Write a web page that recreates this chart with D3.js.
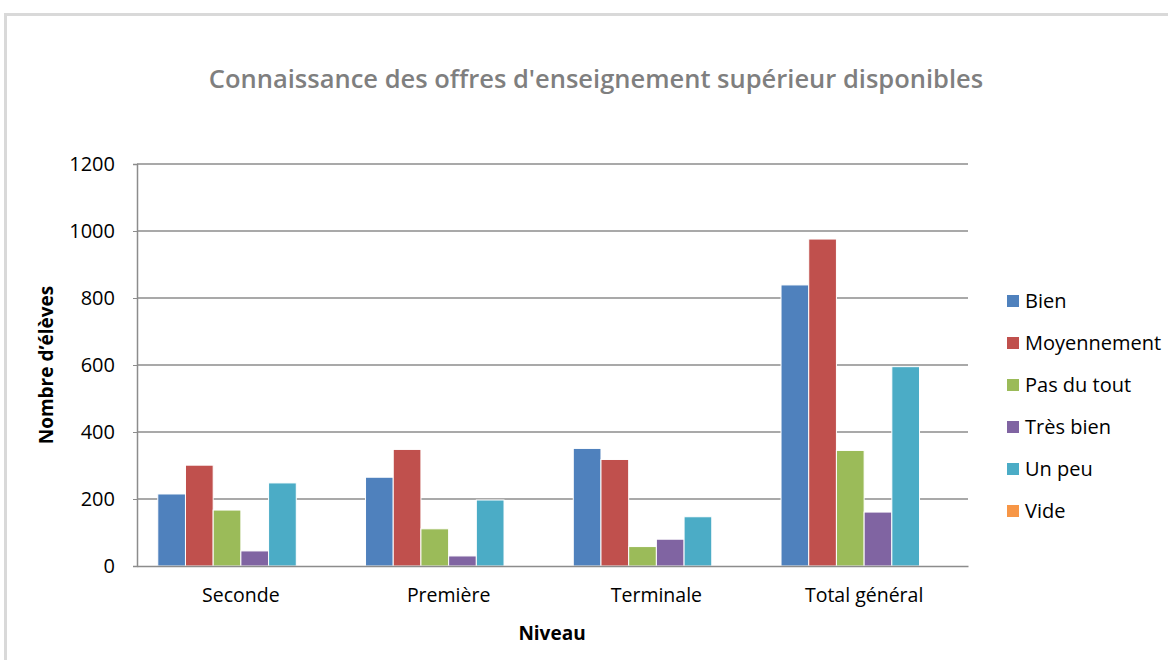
<!DOCTYPE html>
<html>
<head>
<meta charset="utf-8">
<script src="https://cdn.jsdelivr.net/npm/d3@7"></script>
<style>
  body { margin: 0; background: #fff; }
  text { font-family: "Open Sans", "Noto Sans", sans-serif; }
</style>
</head>
<body>
<div id="chart"></div>
<script>
// Data
let niveaux = ["Seconde", "Première", "Terminale", "Total général"];
let series = ["Bien", "Moyennement", "Pas du tout", "Très bien", "Un peu", "Vide"];
let bien = [215, 265, 351, 839];
let moyennement = [301, 348, 318, 976];
let pasDuTout = [167, 111, 58, 345];
let tresBien = [45, 30, 80, 161];
let unPeu = [248, 197, 147, 595];
let vide = [null, null, null, null];
let yTicks = [0, 200, 400, 600, 800, 1000, 1200];

let values = [bien, moyennement, pasDuTout, tresBien, unPeu, vide];
let colors = ["#4F81BD", "#C0504D", "#9BBB59", "#8064A2", "#4BACC6", "#F79646"];

// SVG area
let svgWidth = 1168;
let svgHeight = 660;

let margin = { top: 164, right: 200, bottom: 94, left: 137 };
let width = svgWidth - margin.left - margin.right;
let height = svgHeight - margin.top - margin.bottom;

let svg = d3.select("#chart")
  .append("svg")
  .attr("width", svgWidth)
  .attr("height", svgHeight);

// outer frame (cropped chart border)
svg.append("rect")
  .attr("x", 4).attr("y", 13)
  .attr("width", svgWidth).attr("height", 3)
  .attr("fill", "#d9d9d9");
svg.append("rect")
  .attr("x", 4).attr("y", 13)
  .attr("width", 3).attr("height", svgHeight)
  .attr("fill", "#d9d9d9");

// Title
svg.append("text")
  .attr("x", 596)
  .attr("y", 88)
  .attr("text-anchor", "middle")
  .attr("font-size", "25.5px")
  .attr("font-weight", 600)
  .attr("fill", "#7f7f7f")
  .text("Connaissance des offres d'enseignement supérieur disponibles");

let chartGroup = svg.append("g")
  .attr("transform", `translate(${margin.left}, ${margin.top})`);

// Scales
let x0 = d3.scaleBand().domain(niveaux).range([0, width]);
let gap = x0.bandwidth() * 0.1;
let x1 = d3.scaleBand().domain(series).range([gap, x0.bandwidth() - gap]);
let y = d3.scaleLinear().domain([0, 1200]).range([height, 0]);

// Gridlines
chartGroup.append("g")
  .selectAll("line")
  .data(yTicks.slice(1))
  .enter()
  .append("line")
  .attr("x1", 0)
  .attr("x2", width)
  .attr("y1", (d) => y(d))
  .attr("y2", (d) => y(d))
  .attr("stroke", "#8c8c8c")
  .attr("stroke-width", 1.5);

// Y axis
let yAxis = chartGroup.append("g")
  .call(d3.axisLeft(y).tickValues(yTicks).tickSize(4).tickPadding(18).tickFormat(d3.format("d")));
yAxis.select(".domain").attr("stroke", "#8c8c8c").attr("stroke-width", 1.5);
yAxis.selectAll(".tick line").attr("stroke", "#8c8c8c");
yAxis.selectAll("text").attr("font-size", "20px").attr("fill", "#000");

// Bars
let barData = [];
niveaux.forEach(function (n, i) {
  series.forEach(function (s, j) {
    if (values[j][i] != null) {
      barData.push({ niveau: n, serie: s, value: values[j][i], color: colors[j] });
    }
  });
});

chartGroup.append("g")
  .selectAll("rect")
  .data(barData)
  .enter()
  .append("rect")
  .attr("x", (d) => x0(d.niveau) + x1(d.serie))
  .attr("y", (d) => y(d.value))
  .attr("width", x1.bandwidth())
  .attr("height", (d) => height - y(d.value))
  .attr("fill", (d) => d.color)
  .attr("stroke", "#fff")
  .attr("stroke-width", 1);

// X axis
let xAxis = chartGroup.append("g")
  .attr("transform", `translate(0, ${height})`)
  .call(d3.axisBottom(x0).tickSize(0).tickPadding(22));
xAxis.select(".domain").attr("stroke", "#8c8c8c").attr("stroke-width", 1.5);
xAxis.selectAll("text").attr("font-size", "19.5px").attr("fill", "#000");

// Axis titles
chartGroup.append("text")
  .attr("x", 415)
  .attr("y", height + 74)
  .attr("text-anchor", "middle")
  .attr("font-size", "19px")
  .attr("font-weight", "bold")
  .text("Niveau");

chartGroup.append("text")
  .attr("transform", "rotate(-90)")
  .attr("x", -201)
  .attr("y", -84)
  .attr("text-anchor", "middle")
  .attr("font-size", "19px")
  .attr("font-weight", "bold")
  .text("Nombre d’élèves");

// Legend
let legend = svg.append("g")
  .attr("transform", "translate(1007, 301)");

let legendItems = legend.selectAll("g")
  .data(series)
  .enter()
  .append("g")
  .attr("transform", (d, i) => `translate(0, ${i * 42})`);

legendItems.append("rect")
  .attr("x", 0)
  .attr("y", -6)
  .attr("width", 12)
  .attr("height", 12)
  .attr("fill", (d, i) => colors[i]);

legendItems.append("text")
  .attr("x", 18)
  .attr("y", 0)
  .attr("dy", "0.35em")
  .attr("font-size", "20px")
  .text((d) => d);
</script>
</body>
</html>
